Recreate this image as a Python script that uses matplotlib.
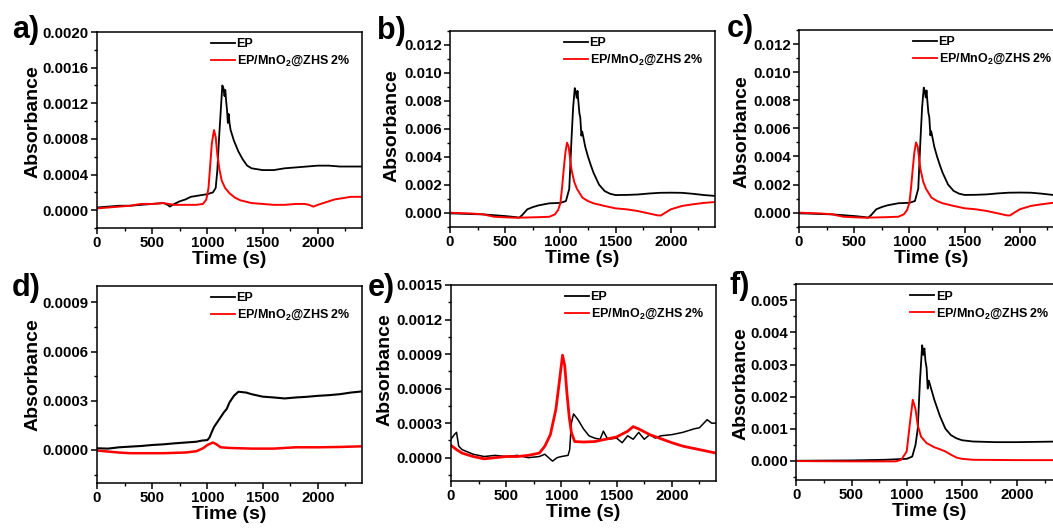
import matplotlib
matplotlib.use("Agg")
import matplotlib.pyplot as plt
from matplotlib.ticker import MultipleLocator, FormatStrFormatter, AutoMinorLocator

plt.rcParams['font.family'] = ['Liberation Sans', 'DejaVu Sans']
plt.rcParams['font.weight'] = 'bold'
plt.rcParams['mathtext.default'] = 'regular'

W, H = 1053, 528

# ---------------- data (time in s, absorbance) ----------------
a_t_ep = [0, 100, 200, 300, 400, 500, 600, 640, 660, 700, 750, 800, 850, 900, 950, 1000, 1050, 1075, 1090, 1105, 1120,
          1135, 1145, 1155, 1162, 1170, 1178, 1185, 1192, 1200, 1210, 1240, 1280, 1320, 1360, 1400, 1450, 1500, 1600,
          1700, 1800, 1900, 2000, 2100, 2200, 2300, 2400]
a_ep = [0.00003, 0.00004, 0.00005, 0.00005, 0.00006, 0.00007, 0.00008, 0.00006, 0.00004, 0.00007, 0.0001, 0.00012,
        0.00015, 0.00016, 0.00017, 0.00018, 0.0002, 0.00025, 0.00045, 0.0008, 0.0011, 0.0014, 0.00137, 0.00128,
        0.00135, 0.00122, 0.00112, 0.00098, 0.00108, 0.00098, 0.0009, 0.00078, 0.00066, 0.00057, 0.0005, 0.00047,
        0.00046, 0.00045, 0.00045, 0.00047, 0.00048, 0.00049, 0.0005, 0.0005, 0.00049, 0.00049, 0.00049]
a_t_mn = [0, 100, 200, 300, 400, 500, 600, 650, 700, 800, 900, 960, 990, 1010, 1025, 1040, 1060, 1075, 1090, 1110,
          1130, 1160, 1200, 1250, 1300, 1400, 1500, 1600, 1700, 1800, 1880, 1920, 1960, 2000, 2050, 2100, 2150, 2200,
          2300, 2400]
a_mn = [0.00002, 0.00003, 0.00004, 0.00005, 0.00007, 0.00007, 0.00008, 0.00007, 0.00006, 0.00006, 0.00006, 0.00007,
        0.00012, 0.00025, 0.0005, 0.00075, 0.0009, 0.00082, 0.00062, 0.00045, 0.00033, 0.00025, 0.00019, 0.00014,
        0.00011, 0.00008, 0.00007, 0.00006, 0.00006, 0.00007, 0.00007, 0.00006, 0.00004, 0.00006, 0.00008, 0.0001,
        0.00012, 0.00013, 0.00015, 0.00015]

b_t_ep = [0, 100, 200, 300, 400, 500, 600, 625, 650, 700, 750, 800, 900, 1000, 1050, 1080, 1100, 1115, 1130, 1140,
          1148, 1155, 1163, 1172, 1180, 1190, 1197, 1205, 1225, 1250, 1275, 1300, 1350, 1400, 1450, 1500, 1600, 1700,
          1800, 1900, 2000, 2100, 2200, 2300, 2400]
b_ep = [-0.00005, -0.00007, -0.0001, -0.00012, -0.00018, -0.00024, -0.00032, -0.00036, -0.0002, 0.00024, 0.0004,
        0.00052, 0.00067, 0.0007, 0.00083, 0.0017, 0.0052, 0.0075, 0.0089, 0.0086, 0.0082, 0.0087, 0.0079, 0.0071,
        0.0068, 0.0055, 0.0058, 0.0055, 0.0047, 0.004, 0.0034, 0.00285, 0.002, 0.00155, 0.00135, 0.00126, 0.00127,
        0.0013, 0.00137, 0.00142, 0.00143, 0.00142, 0.00135, 0.00126, 0.0012]
b_t_mn = [0, 100, 200, 300, 400, 500, 600, 700, 800, 900, 950, 980, 1000, 1015, 1030, 1045, 1060, 1075, 1090, 1100,
          1125, 1150, 1200, 1250, 1300, 1400, 1500, 1600, 1700, 1800, 1880, 1910, 1950, 2000, 2100, 2200, 2300, 2400]
b_mn = [0.0, -0.00003, -0.00006, -0.00012, -0.00029, -0.00033, -0.00036, -0.00034, -0.00032, -0.00029, -0.00012,
        0.0002, 0.0007, 0.0018, 0.0031, 0.0043, 0.005, 0.0047, 0.0037, 0.0031, 0.0022, 0.0017, 0.00107, 0.00083,
        0.00067, 0.00048, 0.00031, 0.00024, 0.00012, -0.00005, -0.00019, -0.0002, 0.0, 0.00024, 0.00048, 0.0006,
        0.0007, 0.00076]

# panel c shows the same curves as panel b
c_t_ep, c_ep, c_t_mn, c_mn = b_t_ep, b_ep, b_t_mn, b_mn

d_t_ep = [0, 100, 200, 300, 400, 500, 600, 700, 800, 900, 950, 1000, 1020, 1040, 1060, 1100, 1150, 1175, 1200, 1240,
          1280, 1350, 1400, 1500, 1600, 1700, 1800, 1900, 2000, 2100, 2200, 2300, 2400]
d_ep = [0.00001, 0.000008, 0.000016, 0.00002, 0.000024, 0.00003, 0.000034, 0.00004, 0.000045, 0.00005, 0.000057,
        0.00006, 0.000077, 0.00011, 0.00014, 0.00018, 0.00023, 0.00025, 0.00029, 0.00033, 0.000355, 0.00035, 0.00034,
        0.000325, 0.00032, 0.000314, 0.00032, 0.000324, 0.00033, 0.000334, 0.00034, 0.00035, 0.000357]
d_t_mn = [0, 100, 200, 300, 400, 500, 600, 700, 800, 900, 960, 1000, 1050, 1080, 1120, 1200, 1300, 1400, 1600, 1800,
          2000, 2200, 2400]
d_mn = [-0.000004, -0.00001, -0.000016, -0.00002, -0.00002, -0.00002, -0.00002, -0.000018, -0.000016, -0.000008,
        0.00001, 0.00003, 0.000045, 0.000035, 0.000016, 0.000012, 0.00001, 0.000008, 0.000008, 0.000016, 0.000016,
        0.000018, 0.000022]

e_t_ep = [0, 30, 50, 70, 100, 150, 200, 300, 400, 500, 600, 700, 800, 850, 900, 920, 960, 1000, 1060, 1075, 1090,
          1110, 1150, 1200, 1250, 1300, 1350, 1380, 1420, 1500, 1550, 1600, 1650, 1700, 1750, 1800, 1850, 1900, 2000,
          2100, 2200, 2250, 2320, 2360, 2400]
e_ep = [0.00016, 0.0002, 0.00022, 0.0001, 0.00007, 0.00005, 0.00003, 0.00001, 0.00002, 0.00001, 0.00002, 0.0,
        0.00001, 0.00003, -0.000014, -0.00003, 0.0, 0.00001, 0.00002, 0.00007, 0.0003, 0.00038, 0.00033, 0.00025,
        0.00019, 0.00017, 0.00016, 0.00023, 0.00016, 0.00017, 0.00013, 0.00019, 0.00016, 0.00022, 0.00016, 0.0002,
        0.00017, 0.00019, 0.0002, 0.00022, 0.00025, 0.00026, 0.00033, 0.0003, 0.0003]
e_t_mn = [0, 50, 100, 200, 300, 400, 500, 600, 700, 800, 850, 900, 950, 980, 1010, 1030, 1050, 1070, 1090, 1120,
          1200, 1300, 1400, 1500, 1600, 1650, 1700, 1800, 1900, 2000, 2100, 2200, 2300, 2400]
e_mn = [0.000107, 0.00007, 0.00004, 0.00001, -0.00001, 0.0, 0.00001, 0.00001, 0.00002, 0.00004, 0.0001, 0.0002,
        0.00042, 0.00065, 0.00089, 0.0008, 0.00056, 0.00036, 0.00022, 0.00014, 0.000136, 0.00014, 0.00016, 0.00018,
        0.00023, 0.00027, 0.00025, 0.0002, 0.000165, 0.00013, 0.0001, 0.00008, 0.00006, 0.00004]

f_t_ep = [0, 500, 800, 1000, 1050, 1080, 1100, 1120, 1140, 1150, 1160, 1170, 1180, 1190, 1200, 1250, 1300, 1350, 1400,
          1450, 1500, 1600, 1800, 2000, 2200, 2400]
f_ep = [0.0, 0.00001, 0.00003, 0.00006, 0.00013, 0.0005, 0.001, 0.0025, 0.0036, 0.0033, 0.0035, 0.0031, 0.0029,
        0.00225, 0.0025, 0.0019, 0.0014, 0.001, 0.0008, 0.0007, 0.00064, 0.0006, 0.00058, 0.00058, 0.00059, 0.0006]
f_t_mn = [0, 500, 900, 950, 1000, 1030, 1055, 1080, 1100, 1130, 1180, 1250, 1300, 1350, 1400, 1450, 1500, 1600, 2000,
          2400]
f_mn = [-0.00001, -0.00002, -0.00002, 0.00003, 0.00029, 0.0012, 0.0019, 0.0016, 0.0011, 0.00075, 0.00055, 0.00042,
        0.00036, 0.00029, 0.00019, 0.0001, 0.00006, 0.00003, 0.00002, 0.00002]

labels = ["EP", "EP/MnO$_2$@ZHS 2%"]
x_ticks = [0, 500, 1000, 1500, 2000]

# ---------------- layout (pixel boxes: left, top, right, bottom) ----------------
panels = [
    dict(tag="a)", box=(97, 32, 362, 228), ylim=(-0.0002, 0.0020), step=0.0004, fmt="%.4f",
         data=(a_t_ep, a_ep, a_t_mn, a_mn), ylab=(-0.2415, 0.542), tagpos=(12, 30), lw=(1.3, 1.4)),
    dict(tag="b)", box=(450, 30.7, 715, 226.7), ylim=(-0.001, 0.013), step=0.002, fmt="%.3f",
         data=(b_t_ep, b_ep, b_t_mn, b_mn), ylab=(-0.22, 0.515), tagpos=(377, 31), lw=(1.3, 1.4)),
    dict(tag="c)", box=(799, 30, 1064, 226.7), ylim=(-0.001, 0.013), step=0.002, fmt="%.3f",
         data=(c_t_ep, c_ep, c_t_mn, c_mn), ylab=(-0.215, 0.483), tagpos=(727, 29), lw=(1.3, 1.4)),
    dict(tag="d)", box=(97, 286, 362, 482.7), ylim=(-0.0002, 0.001), step=0.0003, fmt="%.4f",
         data=(d_t_ep, d_ep, d_t_mn, d_mn), ylab=(-0.243, 0.549), tagpos=(12, 288), lw=(1.5, 1.8)),
    dict(tag="e)", box=(451, 285, 716, 480.7), ylim=(-0.0002, 0.0015), step=0.0003, fmt="%.4f",
         data=(e_t_ep, e_ep, e_t_mn, e_mn), ylab=(-0.249, 0.566), tagpos=(368, 288), lw=(1.1, 2.0)),
    dict(tag="f)", box=(796.3, 284.3, 1061.3, 480), ylim=(-0.0006, 0.0055), step=0.001, fmt="%.3f",
         data=(f_t_ep, f_ep, f_t_mn, f_mn), ylab=(-0.209, 0.49), tagpos=(730, 286), lw=(1.3, 1.4)),
]

fig = plt.figure(figsize=(W / 100, H / 100), dpi=100)

for p in panels:
    l, t, r, b = p["box"]
    ax = fig.add_axes([l / W, (H - b) / H, (r - l) / W, (b - t) / H])
    te, ve, tm, vm = p["data"]
    lw_ep, lw_mn = p["lw"]
    ax.plot(te, ve, color="black", lw=lw_ep, label=labels[0])
    ax.plot(tm, vm, color="#ff0000", lw=lw_mn, label=labels[1])
    ax.set_xlim(0, 2400)
    ax.set_ylim(*p["ylim"])
    ax.set_xticks(x_ticks)
    ax.xaxis.set_minor_locator(MultipleLocator(250))
    ax.yaxis.set_major_locator(MultipleLocator(p["step"]))
    ax.yaxis.set_minor_locator(AutoMinorLocator(2))
    ax.yaxis.set_major_formatter(FormatStrFormatter(p["fmt"]))
    ax.tick_params(which="major", direction="out", length=4, width=1.1, labelsize=10.8, pad=2)
    ax.tick_params(which="minor", direction="out", length=2, width=1.0)
    for lab in ax.get_xticklabels() + ax.get_yticklabels():
        lab.set_fontweight("bold")
    for s in ax.spines.values():
        s.set_linewidth(1.1)
    ax.set_xlabel("Time (s)", fontsize=14, fontweight="bold")
    ax.xaxis.set_label_coords(0.5, -0.161)
    ax.xaxis.label.set_va("center")
    ax.set_ylabel("Absorbance", fontsize=14, fontweight="bold")
    ax.yaxis.set_label_coords(*p["ylab"])
    ax.yaxis.label.set_va("center")
    leg = ax.legend(loc="upper left", bbox_to_anchor=(0.43, 0.968), frameon=False,
                    prop=dict(size=9, weight="bold"), handlelength=1.9, handletextpad=0.15,
                    labelspacing=0.3, borderpad=0, borderaxespad=0)
    for h in leg.get_lines():
        h.set_linewidth(1.3)
    tx, ty = p["tagpos"]
    fig.text(tx / W, 1 - ty / H, p["tag"], fontsize=22, fontweight="bold", ha="left", va="center")

fig.savefig("out.png", dpi=100)
